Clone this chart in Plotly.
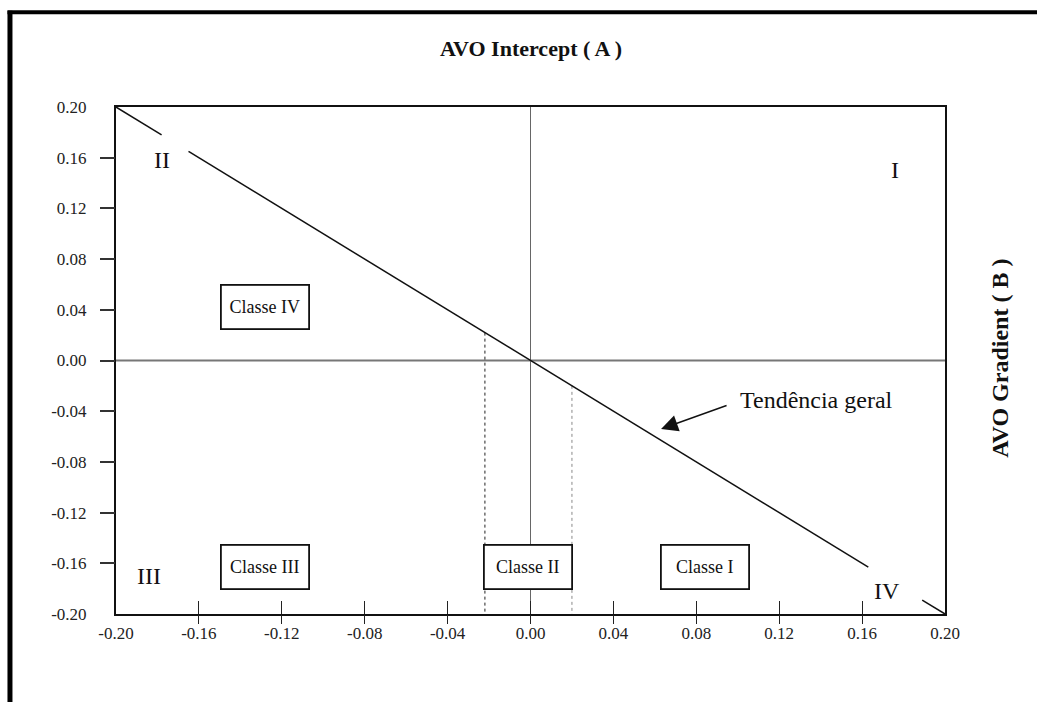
import plotly.graph_objects as go

# ---- data ----
tick_vals = [-0.20, -0.16, -0.12, -0.08, -0.04, 0.00, 0.04, 0.08, 0.12, 0.16, 0.20]
tick_text = ["-0.20", "-0.16", "-0.12", "-0.08", "-0.04", "0.00", "0.04", "0.08", "0.12", "0.16", "0.20"]
inner_ticks = [-0.16, -0.12, -0.08, -0.04, 0.00, 0.04, 0.08, 0.12, 0.16]

# general trend line B = -A, interrupted around the quadrant labels
trend_segments_x = [[-0.20, -0.178], [-0.165, 0.163], [0.189, 0.20]]

# class II limits (dotted verticals)
class2_limits = [-0.022, 0.020]

class_labels = ["Classe IV", "Classe III", "Classe II", "Classe I"]
class_x = [-0.128, -0.128, -0.001, 0.084]
class_y = [0.042, -0.163, -0.163, -0.163]

quad_labels = ["II", "I", "III", "IV"]
quad_x = [-0.178, 0.176, -0.184, 0.172]
quad_y = [0.158, 0.150, -0.170, -0.182]

trend_label = "Tendência geral"
trend_label_xy = (0.138, -0.031)
arrow_head_xy = (0.063, -0.054)

SERIF = "Liberation Serif, Times New Roman, serif"

fig = go.Figure()

# zero axes
fig.add_trace(go.Scatter(x=[0, 0], y=[-0.20, 0.20], mode="lines",
                         line=dict(color="#666666", width=1), hoverinfo="skip", showlegend=False))
fig.add_trace(go.Scatter(x=[-0.20, 0.20], y=[0, 0], mode="lines",
                         line=dict(color="#777777", width=2), hoverinfo="skip", showlegend=False))

# dotted class II limits (from trend line down to bottom)
fig.add_trace(go.Scatter(x=[class2_limits[0], class2_limits[0]], y=[-class2_limits[0], -0.20],
                         mode="lines", line=dict(color="#222222", width=1, dash="dot"),
                         hoverinfo="skip", showlegend=False))
fig.add_trace(go.Scatter(x=[class2_limits[1], class2_limits[1]], y=[-class2_limits[1], -0.20],
                         mode="lines", line=dict(color="#888888", width=1, dash="dot"),
                         hoverinfo="skip", showlegend=False))

# trend line
for seg in trend_segments_x:
    fig.add_trace(go.Scatter(x=seg, y=[-v for v in seg], mode="lines",
                             line=dict(color="#111111", width=1.5), hoverinfo="skip", showlegend=False))

# tick-mark-only axes
fig.add_trace(go.Scatter(x=[0], y=[0], xaxis="x2", yaxis="y2", mode="markers",
                         marker=dict(opacity=0), hoverinfo="skip", showlegend=False))
fig.add_trace(go.Scatter(x=[0], y=[0], xaxis="x3", yaxis="y2", mode="markers",
                         marker=dict(opacity=0), hoverinfo="skip", showlegend=False))

annotations = []
for t, x, y in zip(class_labels, class_x, class_y):
    annotations.append(dict(x=x, y=y, xref="x", yref="y", text=t, showarrow=False,
                            font=dict(family=SERIF, size=18, color="#111111"),
                            bgcolor="white", bordercolor="#111111", borderwidth=1.8,
                            width=84, height=40))
for t, x, y in zip(quad_labels, quad_x, quad_y):
    annotations.append(dict(x=x, y=y, xref="x", yref="y", text=t, showarrow=False,
                            font=dict(family=SERIF, size=24, color="#111111")))

annotations.append(dict(x=trend_label_xy[0], y=trend_label_xy[1], xref="x", yref="y",
                        text=trend_label, showarrow=False,
                        font=dict(family=SERIF, size=24, color="#111111")))
annotations.append(dict(x=arrow_head_xy[0], y=arrow_head_xy[1], xref="x", yref="y",
                        ax=67, ay=-24, axref="pixel", ayref="pixel", text="",
                        showarrow=True, arrowhead=2, arrowsize=2.4, arrowwidth=1.4,
                        arrowcolor="#111111"))

annotations.append(dict(x=0.5, y=1.116, xref="paper", yref="paper", yanchor="middle",
                        xanchor="center",
                        text="<b>AVO Intercept ( A )</b>", showarrow=False,
                        font=dict(family=SERIF, size=22, color="#111111")))
annotations.append(dict(x=1.066, y=0.505, xref="paper", yref="paper", xanchor="center",
                        yanchor="middle",
                        text="<b>AVO Gradient ( B )</b>", showarrow=False, textangle=-90,
                        font=dict(family=SERIF, size=24, color="#111111")))

shapes = [
    # outer thick frame (left and top, running off the page)
    dict(type="line", xref="paper", yref="paper", x0=-0.1279, x1=-0.1279, y0=-0.3, y1=1.190,
         line=dict(color="black", width=5)),
    dict(type="line", xref="paper", yref="paper", x0=-0.1309, x1=1.2, y0=1.187, y1=1.187,
         line=dict(color="black", width=4)),
]

axis_common = dict(range=[-0.20, 0.20], showgrid=False, zeroline=False)

fig.update_layout(
    width=1037, height=702,
    margin=dict(l=116, r=92, t=107, b=88),
    paper_bgcolor="white", plot_bgcolor="white",
    xaxis=dict(**axis_common, tickvals=tick_vals, ticktext=tick_text, ticks="",
               showline=True, linecolor="#111111", linewidth=2, mirror=True,
               tickfont=dict(family=SERIF, size=17, color="#222222"), ticklabelstandoff=3),
    yaxis=dict(**axis_common, tickvals=tick_vals, ticktext=tick_text, ticks="",
               showline=True, linecolor="#111111", linewidth=2, mirror=True,
               tickfont=dict(family=SERIF, size=17, color="#222222"), ticklabelstandoff=24),
    xaxis2=dict(**axis_common, overlaying="x", anchor="y2", side="bottom",
                tickvals=inner_ticks + [0.20], showticklabels=False, ticks="inside",
                ticklen=13, tickwidth=1.3, tickcolor="#222222", showline=False),
    xaxis3=dict(**axis_common, overlaying="x", anchor="y2", side="bottom",
                tickvals=inner_ticks, showticklabels=False, ticks="outside",
                ticklen=9, tickwidth=1.3, tickcolor="#222222", showline=False),
    yaxis2=dict(**axis_common, overlaying="y", anchor="x2", side="left",
                tickvals=inner_ticks, showticklabels=False, ticks="outside",
                ticklen=15, tickwidth=1.5, tickcolor="#333333", showline=False),
    annotations=annotations,
    shapes=shapes,
    showlegend=False,
)

fig.write_html("out.html")
